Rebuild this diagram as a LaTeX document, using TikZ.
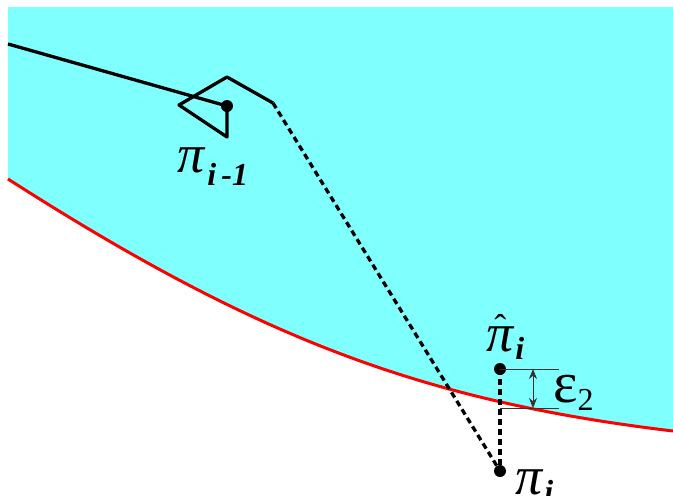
\documentclass[tikz,border=0pt]{standalone}
\usepackage{fontspec}
\setmainfont{Liberation Serif}
\usetikzlibrary{arrows.meta}
\definecolor{cyanfill}{HTML}{80FFFF}
\definecolor{curvered}{HTML}{FF0000}
\tikzset{
  thickline/.style={line width=3.3pt, black, line join=round},
  dashline/.style={line width=3.3pt, black, dash pattern=on 6pt off 4pt},
  thinline/.style={line width=0.9pt, black!80},
  dotnode/.style={circle, fill=black, inner sep=0pt, minimum size=12pt},
  lab/.style={anchor=base west, inner sep=0pt, font=\fontsize{54}{54}\selectfont},
}
\newcommand{\subfnt}{\fontsize{32}{32}\selectfont\bfseries\itshape}
\begin{document}
\begin{tikzpicture}[x=1pt,y=-1pt]
\useasboundingbox (0,0) rectangle (673,496);
% cyan region
\fill[cyanfill] (8,7) -- (673,7) -- (673,431)
  .. controls (423,401) and (258,339) .. (8,179) -- cycle;
% red boundary
\draw[curvered, line width=3pt] (8,179) .. controls (258,339) and (423,401) .. (673,431);
% points
\node[dotnode] (pim1) at (227,106) {};
\node[dotnode] (pihat) at (500,369) {};
\node[dotnode] (pi) at (500,471) {};
\coordinate (start) at (8,44);
\coordinate (c1) at (227,137);
\coordinate (c2) at (179,105);
\coordinate (c3) at (227,77);
\coordinate (c4) at (273,103);
% paths
\draw[thickline] (start) -- (pim1.center);
\draw[thickline] (pim1.center) -- (c1) -- (c2) -- (c3) -- (c4);
\draw[dashline] (c4) -- (pi.center);
\draw[dashline] (pihat.center) -- (pi.center);
% epsilon marker
\coordinate (u2) at (559,369);
\coordinate (l1) at (500,408);
\coordinate (l2) at (559,408);
\draw[thinline] (pihat.center) -- (u2);
\draw[thinline] (l1) -- (l2);
\coordinate (a1) at (533,369);
\coordinate (a2) at (533,408);
\draw[thinline, {Stealth[length=10pt,width=8pt]}-{Stealth[length=10pt,width=8pt]}] (a1) -- (a2);
% labels
\node[lab] (lpim1) at (177,172) {\itshape π\hspace{3pt}\raisebox{-13pt}{\subfnt i\,-1}};
\node[lab] (lpihat) at (486,351) {\itshape π\llap{\raisebox{12pt}{\fontsize{36}{36}\selectfont\upshape ˆ}\hspace{7pt}}\hspace{2pt}\raisebox{-8pt}{\subfnt i}};
\node[lab] (lpi) at (515,494) {\itshape π\hspace{2pt}\raisebox{-8pt}{\subfnt i}};
\node[lab] (leps) at (553,402) {\fontsize{58}{58}\selectfont ε\raisebox{-8pt}{\fontsize{32}{32}\selectfont 2}};
\end{tikzpicture}
\end{document}
